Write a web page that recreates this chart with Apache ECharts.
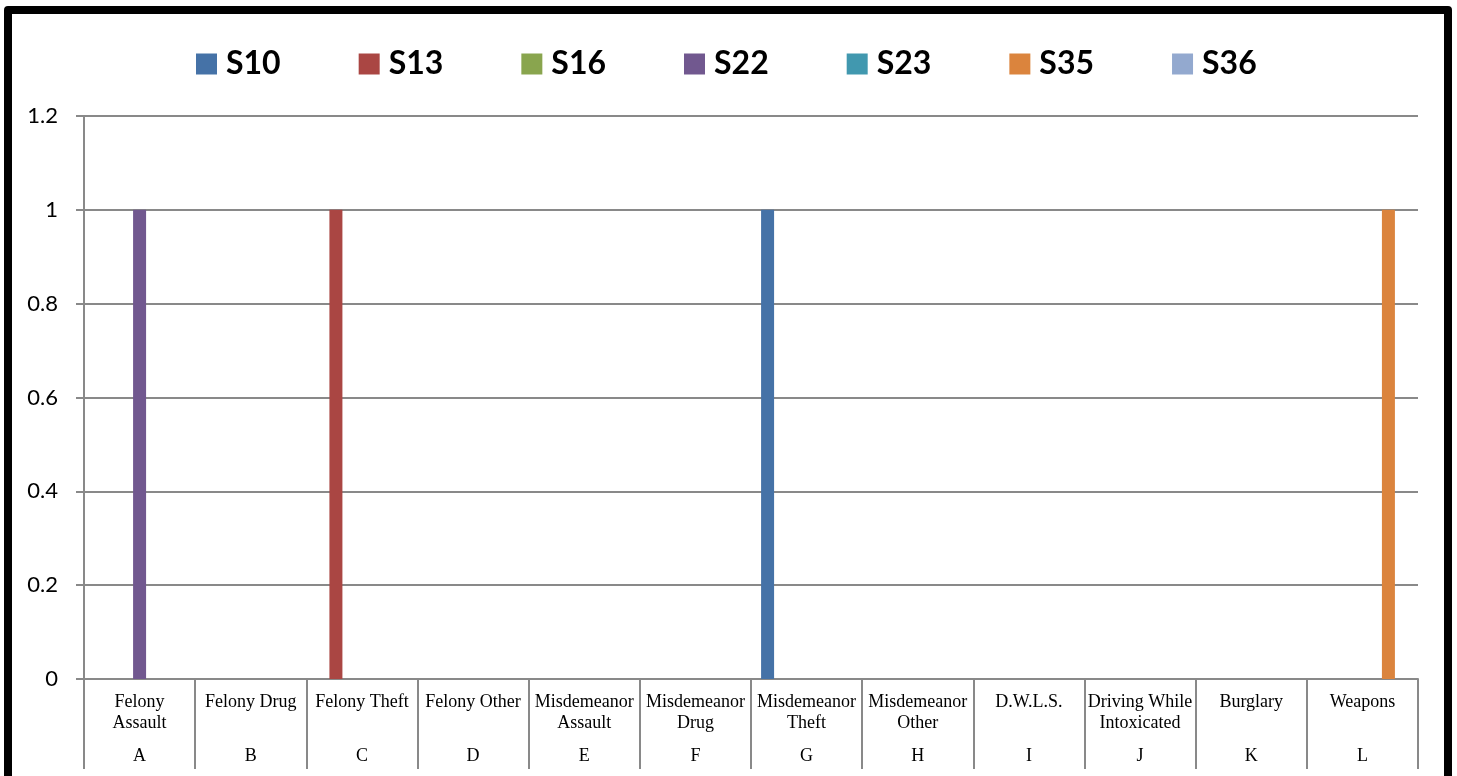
<!DOCTYPE html>
<html>
<head>
<meta charset="utf-8">
<script src="https://cdn.jsdelivr.net/npm/echarts@6/dist/echarts.min.js"></script>
<style>
  html, body { margin: 0; padding: 0; overflow: hidden; background: #fff; }
  #chart { position: absolute; left: 0; top: 0; width: 1457px; height: 776px; }
  #frame {
    position: absolute; left: 4px; top: 6px; width: 1448px; height: 820px;
    border: 8px solid #000; border-radius: 4px; box-sizing: border-box; pointer-events: none;
  }
</style>
</head>
<body>
<div id="chart"></div>
<div id="frame"></div>
<script>
// categories (two label rows)
const categories = ['Felony\nAssault', 'Felony Drug', 'Felony Theft', 'Felony Other', 'Misdemeanor\nAssault',
  'Misdemeanor\nDrug', 'Misdemeanor\nTheft', 'Misdemeanor\nOther', 'D.W.L.S.', 'Driving While\nIntoxicated',
  'Burglary', 'Weapons'];
const letters = ['A', 'B', 'C', 'D', 'E', 'F', 'G', 'H', 'I', 'J', 'K', 'L'];

const seriesNames = ['S10', 'S13', 'S16', 'S22', 'S23', 'S35', 'S36'];
const s10 = [0, 0, 0, 0, 0, 0, 1, 0, 0, 0, 0, 0];
const s13 = [0, 0, 1, 0, 0, 0, 0, 0, 0, 0, 0, 0];
const s16 = [0, 0, 0, 0, 0, 0, 0, 0, 0, 0, 0, 0];
const s22 = [1, 0, 0, 0, 0, 0, 0, 0, 0, 0, 0, 0];
const s23 = [0, 0, 0, 0, 0, 0, 0, 0, 0, 0, 0, 0];
const s35 = [0, 0, 0, 0, 0, 0, 0, 0, 0, 0, 0, 1];
const s36 = [0, 0, 0, 0, 0, 0, 0, 0, 0, 0, 0, 0];
const seriesData = [s10, s13, s16, s22, s23, s35, s36];

const colors = ['#4572A7', '#AA4643', '#89A54E', '#71588F', '#4198AF', '#DB843D', '#93A9CF'];

const chart = echarts.init(document.getElementById('chart'));

chart.setOption({
  animation: false,
  color: colors,
  legend: {
    data: seriesNames,
    left: 191,
    top: 43,
    itemWidth: 21,
    itemHeight: 21,
    itemGap: 78,
    icon: 'rect',
    textStyle: {
      fontFamily: 'Lato',
      fontWeight: 'bold',
      fontSize: 32,
      color: '#000',
      padding: [0, 0, 0, 4]
    }
  },
  grid: {
    left: 84,
    right: 39,
    top: 116,
    bottom: 97
  },
  xAxis: [
    {
      type: 'category',
      data: categories,
      position: 'bottom',
      axisLine: { lineStyle: { color: '#898989', width: 2 } },
      axisTick: { show: true, length: 90, lineStyle: { color: '#898989', width: 2 } },
      axisLabel: {
        interval: 0,
        margin: 13,
        color: '#000',
        fontFamily: 'Liberation Serif',
        fontSize: 18,
        lineHeight: 21
      }
    },
    {
      type: 'category',
      data: letters,
      position: 'bottom',
      axisLine: { show: false },
      axisTick: { show: false },
      axisLabel: {
        interval: 0,
        margin: 68,
        color: '#000',
        fontFamily: 'Liberation Serif',
        fontSize: 18
      }
    }
  ],
  yAxis: {
    type: 'value',
    min: 0,
    max: 1.2,
    interval: 0.2,
    axisLine: { show: true, lineStyle: { color: '#898989', width: 2 } },
    axisTick: { show: true, length: 8, lineStyle: { color: '#898989', width: 2 } },
    axisLabel: {
      margin: 26,
      color: '#000',
      fontFamily: 'Lato',
      fontSize: 22,
      formatter: v => String(Math.round(v * 10) / 10)
    },
    splitLine: { lineStyle: { color: '#898989', width: 2 } }
  },
  series: seriesNames.map((name, i) => ({
    name: name,
    type: 'bar',
    xAxisIndex: 0,
    barWidth: 13,
    barGap: '0%',
    data: seriesData[i]
  }))
});
</script>
</body>
</html>
